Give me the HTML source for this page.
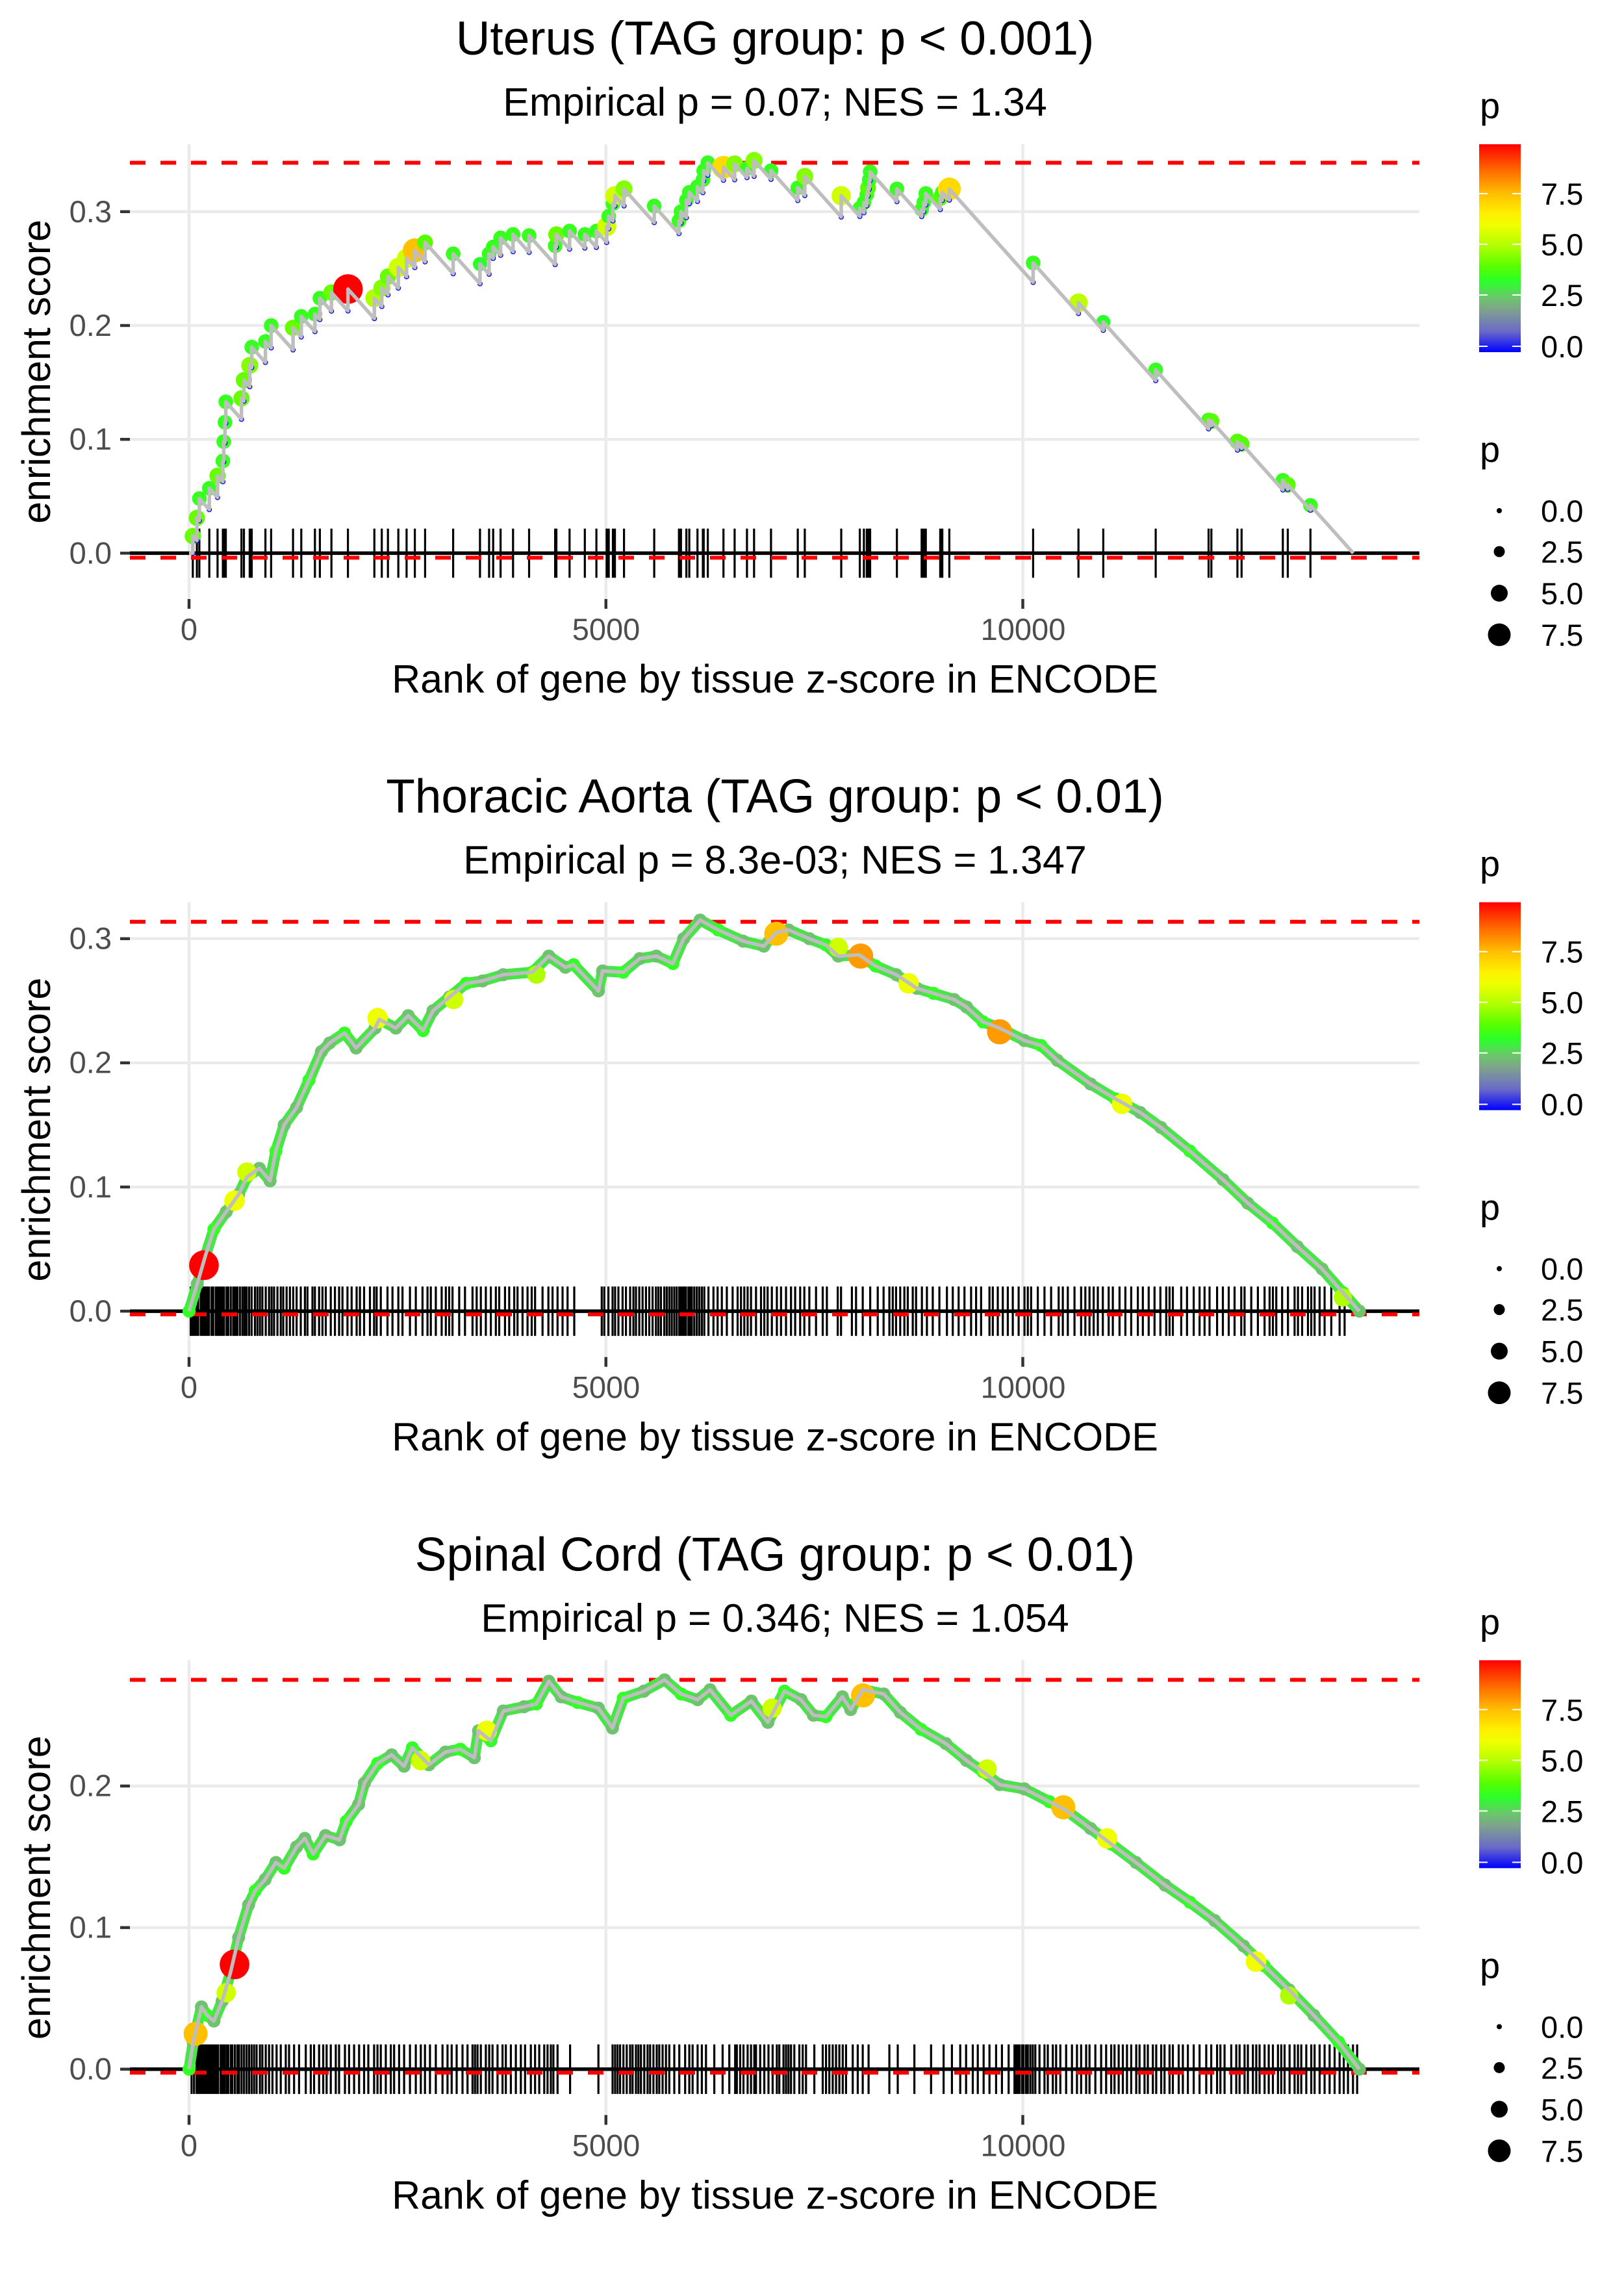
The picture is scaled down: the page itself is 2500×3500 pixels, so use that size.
<!DOCTYPE html>
<html><head><meta charset="utf-8"><title>Enrichment plots</title>
<style>
html,body{margin:0;padding:0;background:#fff;}
svg{display:block;font-family:"Liberation Sans",Arial,sans-serif;}
.tt{font-size:73px;fill:#000;text-anchor:middle;}
.st{font-size:61px;fill:#000;text-anchor:middle;}
.at{font-size:61px;fill:#000;text-anchor:middle;}
.yl{font-size:47px;fill:#4d4d4d;text-anchor:end;}
.xl{font-size:47px;fill:#4d4d4d;text-anchor:middle;}
.lt{font-size:56px;fill:#000;}
.ll{font-size:47px;fill:#000;}
</style></head>
<body>
<svg id="chart" width="2500" height="3500" viewBox="0 0 2500 3500" xmlns="http://www.w3.org/2000/svg">
<defs>
<linearGradient id="pgrad" x1="0" y1="1" x2="0" y2="0">
<stop offset="0" stop-color="#0000ff"/>
<stop offset="0.10" stop-color="#6a6ac8"/>
<stop offset="0.20" stop-color="#7fa08f"/>
<stop offset="0.26" stop-color="#6cc56c"/>
<stop offset="0.34" stop-color="#2bff2b"/>
<stop offset="0.41" stop-color="#55ff00"/>
<stop offset="0.51" stop-color="#b0ff00"/>
<stop offset="0.61" stop-color="#f0ff00"/>
<stop offset="0.67" stop-color="#ffee00"/>
<stop offset="0.76" stop-color="#ffc000"/>
<stop offset="0.88" stop-color="#ff6600"/>
<stop offset="1" stop-color="#ff0000"/>
</linearGradient>
</defs>

<!-- Panel 1 -->
<g id="panel-0">
<text class="tt" x="1193" y="84">Uterus (TAG group: p &lt; 0.001)</text>
<text class="st" x="1193" y="178">Empirical p = 0.07; NES = 1.34</text>
<text class="at" transform="translate(77,572) rotate(-90)">enrichment score</text>
<text class="at" x="1193" y="1066">Rank of gene by tissue z-score in ENCODE</text>
<g class="plot"></g>
<text class="yl" x="172" y="867.4">0.0</text>
<text class="yl" x="172" y="692.2">0.1</text>
<text class="yl" x="172" y="517">0.2</text>
<text class="yl" x="172" y="341.8">0.3</text>
<text class="xl" x="291" y="985">0</text>
<text class="xl" x="933" y="985">5000</text>
<text class="xl" x="1575" y="985">10000</text>
<g>
<text class="lt" x="2278" y="182">p</text>
<rect x="2277" y="222" width="64" height="320" fill="url(#pgrad)"/>
<g stroke="#fff" stroke-width="2"><line x1="2277" x2="2290" y1="298" y2="298"/><line x1="2328" x2="2341" y1="298" y2="298"/><line x1="2277" x2="2290" y1="376" y2="376"/><line x1="2328" x2="2341" y1="376" y2="376"/><line x1="2277" x2="2290" y1="454" y2="454"/><line x1="2328" x2="2341" y1="454" y2="454"/><line x1="2277" x2="2290" y1="533" y2="533"/><line x1="2328" x2="2341" y1="533" y2="533"/></g>
<text class="ll" x="2372" y="315">7.5</text><text class="ll" x="2372" y="393">5.0</text><text class="ll" x="2372" y="471">2.5</text><text class="ll" x="2372" y="550">0.0</text>
</g>
<g>
<text class="lt" x="2278" y="711">p</text>
<circle cx="2308" cy="786" r="4"/><circle cx="2308" cy="849" r="8.5"/><circle cx="2308" cy="913" r="13"/><circle cx="2308" cy="977" r="17.5"/>
<text class="ll" x="2372" y="803">0.0</text><text class="ll" x="2372" y="866">2.5</text><text class="ll" x="2372" y="930">5.0</text><text class="ll" x="2372" y="994">7.5</text>
</g>
</g>

<!-- Panel 2 -->
<g id="panel-1" transform="translate(0,1166.67)">
<text class="tt" x="1193" y="84">Thoracic Aorta (TAG group: p &lt; 0.01)</text>
<text class="st" x="1193" y="178">Empirical p = 8.3e-03; NES = 1.347</text>
<text class="at" transform="translate(77,572) rotate(-90)">enrichment score</text>
<text class="at" x="1193" y="1066">Rank of gene by tissue z-score in ENCODE</text>
<g class="plot"></g>
<text class="yl" x="172" y="867.2">0.0</text>
<text class="yl" x="172" y="676.1">0.1</text>
<text class="yl" x="172" y="485">0.2</text>
<text class="yl" x="172" y="293.9">0.3</text>
<text class="xl" x="291" y="985">0</text>
<text class="xl" x="933" y="985">5000</text>
<text class="xl" x="1575" y="985">10000</text>
<g>
<text class="lt" x="2278" y="182">p</text>
<rect x="2277" y="222" width="64" height="320" fill="url(#pgrad)"/>
<g stroke="#fff" stroke-width="2"><line x1="2277" x2="2290" y1="298" y2="298"/><line x1="2328" x2="2341" y1="298" y2="298"/><line x1="2277" x2="2290" y1="376" y2="376"/><line x1="2328" x2="2341" y1="376" y2="376"/><line x1="2277" x2="2290" y1="454" y2="454"/><line x1="2328" x2="2341" y1="454" y2="454"/><line x1="2277" x2="2290" y1="533" y2="533"/><line x1="2328" x2="2341" y1="533" y2="533"/></g>
<text class="ll" x="2372" y="315">7.5</text><text class="ll" x="2372" y="393">5.0</text><text class="ll" x="2372" y="471">2.5</text><text class="ll" x="2372" y="550">0.0</text>
</g>
<g>
<text class="lt" x="2278" y="711">p</text>
<circle cx="2308" cy="786" r="4"/><circle cx="2308" cy="849" r="8.5"/><circle cx="2308" cy="913" r="13"/><circle cx="2308" cy="977" r="17.5"/>
<text class="ll" x="2372" y="803">0.0</text><text class="ll" x="2372" y="866">2.5</text><text class="ll" x="2372" y="930">5.0</text><text class="ll" x="2372" y="994">7.5</text>
</g>
</g>

<!-- Panel 3 -->
<g id="panel-2" transform="translate(0,2333.33)">
<text class="tt" x="1193" y="84">Spinal Cord (TAG group: p &lt; 0.01)</text>
<text class="st" x="1193" y="178">Empirical p = 0.346; NES = 1.054</text>
<text class="at" transform="translate(77,572) rotate(-90)">enrichment score</text>
<text class="at" x="1193" y="1066">Rank of gene by tissue z-score in ENCODE</text>
<g class="plot"></g>
<text class="yl" x="172" y="867.2">0.0</text>
<text class="yl" x="172" y="649.3">0.1</text>
<text class="yl" x="172" y="431.4">0.2</text>
<text class="xl" x="291" y="985">0</text>
<text class="xl" x="933" y="985">5000</text>
<text class="xl" x="1575" y="985">10000</text>
<g>
<text class="lt" x="2278" y="182">p</text>
<rect x="2277" y="222" width="64" height="320" fill="url(#pgrad)"/>
<g stroke="#fff" stroke-width="2"><line x1="2277" x2="2290" y1="298" y2="298"/><line x1="2328" x2="2341" y1="298" y2="298"/><line x1="2277" x2="2290" y1="376" y2="376"/><line x1="2328" x2="2341" y1="376" y2="376"/><line x1="2277" x2="2290" y1="454" y2="454"/><line x1="2328" x2="2341" y1="454" y2="454"/><line x1="2277" x2="2290" y1="533" y2="533"/><line x1="2328" x2="2341" y1="533" y2="533"/></g>
<text class="ll" x="2372" y="315">7.5</text><text class="ll" x="2372" y="393">5.0</text><text class="ll" x="2372" y="471">2.5</text><text class="ll" x="2372" y="550">0.0</text>
</g>
<g>
<text class="lt" x="2278" y="711">p</text>
<circle cx="2308" cy="786" r="4"/><circle cx="2308" cy="849" r="8.5"/><circle cx="2308" cy="913" r="13"/><circle cx="2308" cy="977" r="17.5"/>
<text class="ll" x="2372" y="803">0.0</text><text class="ll" x="2372" y="866">2.5</text><text class="ll" x="2372" y="930">5.0</text><text class="ll" x="2372" y="994">7.5</text>
</g>
</g>
</svg>

<script>
// ---------- Panel 1 (Uterus): hit ranks, running ES at hit, p per hit ----------
const hitRank1 = [45,94,124,243,342,406,416,431,441,629,658,728,752,916,985,1247,1346,1510,1569,1708,1906,2223,2312,2386,2510,2609,2708,2831,3168,3490,3599,3648,3737,3886,4079,4391,4406,4564,4747,4886,5009,5034,5084,5108,5217,5579,5876,5900,5965,6000,6098,6163,6173,6222,6410,6544,6692,6777,6980,7301,7385,7822,8045,8094,8129,8144,8159,8169,8490,8787,8812,8837,9010,9035,9119,10124,10668,10965,11594,12228,12262,12574,12624,13119,13178,13450];
const hitES1 = [0.015,0.031,0.048,0.057,0.068,0.081,0.098,0.115,0.133,0.136,0.152,0.165,0.181,0.186,0.200,0.198,0.208,0.210,0.224,0.229,0.232,0.224,0.233,0.243,0.251,0.259,0.266,0.273,0.263,0.254,0.263,0.269,0.277,0.280,0.279,0.270,0.280,0.283,0.280,0.283,0.287,0.296,0.307,0.314,0.320,0.305,0.292,0.300,0.310,0.317,0.322,0.328,0.336,0.343,0.339,0.342,0.338,0.345,0.336,0.321,0.331,0.314,0.303,0.308,0.315,0.321,0.328,0.335,0.320,0.302,0.308,0.316,0.312,0.317,0.320,0.255,0.220,0.203,0.161,0.117,0.116,0.098,0.096,0.064,0.060,0.042];
const hitP1 = [4.2,4.2,3.5,3.5,4.2,3.5,3.5,3.5,3.5,4.2,4.2,4.5,3.5,3.5,3.5,4.2,3.5,3.5,3.5,4.2,9.9,5,4.5,4.2,5.5,5.5,7.5,4,3.5,3.3,3.5,3.5,3.5,3.5,3.5,3.5,4.2,3.5,3.5,3.5,5.5,3.5,3.5,5.5,4.5,3.5,3.5,3.5,3.5,3.5,3.5,3.5,3.5,3.5,7,4.5,3.5,4.5,3.5,3.5,4.5,5.5,3.5,3.5,3.5,4,3.5,3.5,3.5,3.5,3.5,3.5,4,3.5,7,3.5,5.2,3.3,3.5,3.5,4,4,4,3.5,4,3.5];
const totalGenes1 = 13964;

// ---------- Panel 2 (Thoracic Aorta) ----------
const curveRank2 = [0,99,198,298,446,595,694,843,972,1042,1141,1290,1438,1587,1686,1865,2004,2232,2282,2480,2629,2807,2926,3124,3323,3521,3769,4116,4315,4514,4613,4910,4960,5208,5406,5605,5803,5932,6130,6348,6646,6894,7043,7192,7440,7638,7787,8035,8234,8482,8730,8928,9176,9325,9523,9722,10019,10218,10416,10813,11110,11408,11656,12003,12400,12698,12995,13293,13590,13838,14037];
const curveES2 = [0,0.022,0.045,0.066,0.080,0.094,0.108,0.115,0.105,0.129,0.150,0.164,0.186,0.209,0.216,0.224,0.212,0.228,0.235,0.228,0.238,0.226,0.242,0.253,0.264,0.266,0.271,0.273,0.286,0.277,0.279,0.258,0.274,0.273,0.284,0.286,0.280,0.300,0.315,0.307,0.298,0.294,0.305,0.307,0.300,0.295,0.286,0.287,0.278,0.271,0.260,0.256,0.251,0.245,0.233,0.228,0.218,0.214,0.202,0.183,0.171,0.160,0.148,0.129,0.106,0.087,0.071,0.052,0.034,0.015,0];
const hlRank2 = [179,546,694,2262,3174,4166,7043,7787,8055,8630,9722,11190,13838];
const hlES2 = [0.037,0.089,0.112,0.236,0.251,0.271,0.304,0.293,0.286,0.264,0.225,0.167,0.011];
const hlP2 = [9.9,6,5.5,6,5.5,5,7.5,5.5,8,6,8,6,5];
const ticks2 = [20,45,70,95,110,140,165,190,215,240,270,290,320,345,370,395,420,450,470,500,530,555,580,610,640,665,690,720,750,790,820,850,880,920,960,990,1020,1060,1100,1130,1170,1210,1250,1290,1340,1390,1420,1480,1510,1560,1600,1640,1700,1750,1800,1840,1900,1950,2010,2050,2100,2170,2220,2250,2300,2380,2440,2510,2560,2650,2720,2800,2860,2900,2960,3030,3080,3120,3160,3240,3310,3400,3450,3500,3560,3620,3680,3720,3790,3840,3900,3940,4000,4060,4110,4150,4240,4310,4360,4420,4480,4540,4620,4950,4980,5030,5080,5110,5150,5200,5240,5290,5330,5360,5400,5440,5480,5520,5560,5600,5630,5660,5700,5730,5760,5790,5820,5850,5880,5900,5920,5940,5960,5990,6010,6030,6060,6090,6120,6150,6180,6230,6290,6340,6390,6450,6520,6580,6620,6660,6700,6740,6800,6860,6900,6940,6990,7050,7100,7160,7220,7270,7330,7380,7440,7520,7600,7650,7780,7820,7950,8000,8080,8170,8260,8330,8400,8440,8480,8530,8580,8620,8680,8720,8790,8850,8920,9000,9090,9160,9230,9300,9380,9440,9500,9600,9640,9700,9760,9820,9880,9950,10020,10060,10100,10180,10260,10340,10430,10480,10540,10620,10700,10750,10800,10850,10900,10960,11030,11080,11160,11230,11300,11380,11440,11510,11580,11650,11720,11760,11800,11900,11970,12050,12120,12180,12240,12330,12400,12470,12540,12620,12660,12740,12820,12900,12960,13000,13040,13110,13180,13260,13300,13350,13420,13460,13500,13560,13620,13700,13800,13860];

// ---------- Panel 3 (Spinal Cord) ----------
const curveRank3 = [0,50,149,218,298,397,496,595,714,794,913,1042,1141,1290,1389,1488,1637,1805,1885,2034,2103,2262,2430,2579,2678,2877,3075,3253,3422,3472,3620,3769,4017,4166,4315,4463,4662,4910,5079,5208,5456,5704,5902,6100,6249,6497,6745,6943,7142,7340,7489,7638,7836,7936,8084,8333,8531,8779,9077,9325,9523,9722,10019,10317,10515,10813,11061,11358,11706,12003,12301,12648,12896,13194,13491,13789,14037];
const curveES3 = [0,0.019,0.044,0.038,0.034,0.048,0.068,0.093,0.116,0.126,0.134,0.146,0.142,0.157,0.163,0.152,0.165,0.162,0.175,0.187,0.202,0.216,0.222,0.214,0.227,0.215,0.224,0.226,0.220,0.239,0.232,0.253,0.256,0.258,0.274,0.263,0.259,0.255,0.241,0.262,0.267,0.275,0.265,0.261,0.268,0.250,0.260,0.245,0.267,0.261,0.250,0.249,0.263,0.254,0.268,0.265,0.252,0.240,0.230,0.218,0.210,0.201,0.198,0.189,0.183,0.170,0.159,0.146,0.130,0.118,0.105,0.087,0.073,0.056,0.038,0.019,0];
const hlRank3 = [79,446,546,2777,3571,6993,8084,9573,10486,11011,12797,13194];
const hlES3 = [0.025,0.054,0.074,0.218,0.239,0.255,0.264,0.212,0.185,0.163,0.076,0.052];
const hlP3 = [7.5,5.5,9.9,5.5,6,5.5,7.5,5.5,7.5,6,6,5];
const ticks3 = [30,60,90,110,130,150,175,200,220,240,260,285,310,330,350,380,400,425,450,470,500,520,550,580,600,630,660,690,720,750,780,810,850,880,920,960,1000,1050,1100,1160,1200,1260,1320,1400,1460,1500,1560,1610,1650,1700,1760,1800,1870,1920,1980,2040,2100,2150,2220,2260,2300,2360,2420,2460,2520,2580,2650,2720,2780,2830,2890,2960,3040,3100,3150,3210,3280,3340,3400,3430,3460,3500,3560,3600,3640,3700,3760,3800,3860,3920,3980,4030,4100,4150,4200,4260,4300,4340,4370,4420,4570,4910,5080,5110,5140,5170,5210,5250,5290,5320,5360,5390,5420,5460,5500,5530,5570,5610,5640,5680,5720,5760,5820,5880,5950,6000,6040,6100,6150,6200,6300,6400,6480,6550,6570,6610,6650,6700,6740,6780,6800,6850,6900,6950,7000,7050,7080,7130,7160,7190,7220,7260,7320,7360,7400,7500,7600,7640,7680,7720,7760,7800,7840,7880,7960,8020,8080,8150,8400,8500,8700,8900,9050,9150,9250,9320,9400,9460,9530,9600,9680,9750,9830,9900,9920,9940,9960,9990,10010,10040,10060,10090,10120,10150,10200,10260,10300,10360,10400,10450,10520,10590,10650,10700,10760,10800,10870,10940,11000,11060,11100,11150,11200,11250,11300,11360,11400,11460,11500,11560,11600,11660,11700,11760,11800,11870,11920,11980,12050,12120,12200,12260,12330,12370,12420,12500,12560,12600,12660,12700,12760,12800,12840,12900,12950,13000,13060,13100,13140,13200,13260,13300,13340,13400,13460,13500,13560,13620,13680,13740,13800,13850,13900,13960,14010];

// dashed reference lines (max / min running ES)
const maxES = [0.343, 0.3136, 0.275];
const minES = [-0.004, -0.0026, -0.0025];
const xTicks = [0, 5000, 10000];
const yTicks = [[0,0.1,0.2,0.3],[0,0.1,0.2,0.3],[0,0.1,0.2]];
const barHalf = [0.0216, 0.0199, 0.0175];

// ---------- layout ----------
const NS = 'http://www.w3.org/2000/svg';
const PL = 200, PR = 2185, PT = 222, PB = 922, Y0 = 851.4;
const yK = [1752, 1911, 2179];
function xS(r){ return 291 + r * 0.12835; }
function yS(i, v){ return Y0 - v * yK[i]; }
const cstops = [[0,[0,0,255]],[1,[106,106,200]],[2,[127,160,143]],[2.6,[108,197,108]],[3.3,[43,255,43]],[4,[85,255,0]],[5,[176,255,0]],[6,[240,255,0]],[6.6,[255,238,0]],[7.5,[255,192,0]],[8.7,[255,102,0]],[9.9,[255,0,0]]];
function pColor(p){
  if (p <= cstops[0][0]) return 'rgb(0,0,255)';
  for (let k = 1; k < cstops.length; k++){
    if (p <= cstops[k][0]){
      const a = cstops[k-1], b = cstops[k], t = (p - a[0]) / (b[0] - a[0]);
      const c = a[1].map((v, j) => Math.round(v + (b[1][j] - v) * t));
      return 'rgb(' + c.join(',') + ')';
    }
  }
  return 'rgb(255,0,0)';
}
function pRadius(p){ return 5 + 1.8 * p; }
function mk(tag, attrs, parent){
  const el = document.createElementNS(NS, tag);
  for (const k in attrs) el.setAttribute(k, attrs[k]);
  parent.appendChild(el);
  return el;
}

function drawFrame(i, g){
  for (const t of yTicks[i]){
    const gl = mk('line', {x1: PL, x2: PR, y1: yS(i,t), y2: yS(i,t), stroke: '#ebebeb', 'stroke-width': 4.5}, g);
    
    
    const tk = mk('line', {x1: 185, x2: 200, y1: yS(i,t), y2: yS(i,t), stroke: '#333', 'stroke-width': 4.5}, g);
    
    
  }
  for (const r of xTicks){
    const gl = mk('line', {x1: xS(r), x2: xS(r), y1: PT, y2: PB, stroke: '#ebebeb', 'stroke-width': 4.5}, g);
    
    
    const tk = mk('line', {x1: xS(r), x2: xS(r), y1: PB, y2: PB + 15, stroke: '#333', 'stroke-width': 4.5}, g);
    
    
  }
}
function drawTicks(i, g, ranks){
  let d = '';
  for (const r of ranks){
    d += 'M' + xS(r).toFixed(1) + ' ' + yS(i, barHalf[i]).toFixed(1) + 'V' + yS(i, -barHalf[i]).toFixed(1);
  }
  const p = mk('path', {d: d, stroke: '#000', 'stroke-width': 3.2, fill: 'none'}, g);
  
  
}
function drawRefLines(i, g){
  const z = mk('line', {x1: PL, x2: PR, y1: yS(i,0), y2: yS(i,0), stroke: '#000', 'stroke-width': 5.5}, g);
  
  
  const a = mk('line', {x1: PL, x2: PR, y1: yS(i,maxES[i]), y2: yS(i,maxES[i]), stroke: '#ff0000', 'stroke-width': 6, 'stroke-dasharray': '24 23'}, g);
  
  
  const b = mk('line', {x1: PL, x2: PR, y1: yS(i,minES[i]), y2: yS(i,minES[i]), stroke: '#ff0000', 'stroke-width': 6, 'stroke-dasharray': '24 23'}, g);
  
  
}

// Panel 1: step-like running ES
(function(){
  const g = document.querySelector('#panel-0 .plot');
  drawFrame(0, g);
  drawTicks(0, g, hitRank1);
  drawRefLines(0, g);
  const last = hitRank1.length - 1;
  const slope = hitES1[last] / (totalGenes1 - hitRank1[last]);
  const valleys = [];
  for (let k = 0; k < hitRank1.length; k++){
    let v = k === 0 ? 0 : hitES1[k-1] - slope * (hitRank1[k] - hitRank1[k-1]);
    v = Math.min(v, hitES1[k] - 0.004);
    valleys.push(v);
  }
  for (let k = 0; k < hitRank1.length; k++){
    const c = mk('circle', {cx: xS(hitRank1[k]), cy: yS(0, hitES1[k]), r: pRadius(hitP1[k]), fill: pColor(hitP1[k])}, g);
    
    
  }
  for (let k = 0; k < hitRank1.length; k++){
    const c = mk('circle', {cx: xS(hitRank1[k]), cy: yS(0, valleys[k]), r: 4, fill: '#0000ff'}, g);
    
    
  }
  let d = 'M' + xS(0) + ' ' + yS(0, 0);
  for (let k = 0; k < hitRank1.length; k++){
    d += 'L' + xS(hitRank1[k]).toFixed(1) + ' ' + yS(0, valleys[k]).toFixed(1);
    d += 'L' + xS(hitRank1[k]).toFixed(1) + ' ' + yS(0, hitES1[k]).toFixed(1);
  }
  d += 'L' + xS(totalGenes1).toFixed(1) + ' ' + yS(0, 0).toFixed(1);
  const ln = mk('path', {d: d, stroke: '#bebebe', 'stroke-width': 5.5, fill: 'none', 'stroke-linejoin': 'round'}, g);
  
  
})();

// Panels 2 and 3: dense running ES
function drawDense(i, ranks, es, hlR, hlE, hlP, ticks){
  const g = document.querySelector('#panel-' + i + ' .plot');
  drawFrame(i, g);
  drawTicks(i, g, ticks);
  drawRefLines(i, g);
  let d = '';
  for (let k = 0; k < ranks.length; k++){
    d += (k ? 'L' : 'M') + xS(ranks[k]).toFixed(1) + ' ' + yS(i, es[k]).toFixed(1);
  }
  const under = mk('path', {d: d, stroke: '#0000ff', 'stroke-width': 2, fill: 'none', transform: 'translate(0,7)'}, g);
  
  
  const band = mk('path', {d: d, stroke: pColor(3.0), 'stroke-width': 17, fill: 'none', 'stroke-linejoin': 'round'}, g);
  
  
  for (let k = 0; k < ranks.length; k++){
    const c = mk('circle', {cx: xS(ranks[k]), cy: yS(i, es[k]), r: pRadius(2.8), fill: pColor(k % 3 === 0 ? 3.4 : 2.6)}, g);
    
    
  }
  for (let k = 0; k < hlR.length; k++){
    const c = mk('circle', {cx: xS(hlR[k]), cy: yS(i, hlE[k]), r: pRadius(hlP[k]), fill: pColor(hlP[k])}, g);
    
    
  }
  const ln = mk('path', {d: d, stroke: '#bebebe', 'stroke-width': 5.5, fill: 'none', 'stroke-linejoin': 'round'}, g);
  
  
}
drawDense(1, curveRank2, curveES2, hlRank2, hlES2, hlP2, ticks2);
drawDense(2, curveRank3, curveES3, hlRank3, hlES3, hlP3, ticks3);
</script>
</body></html>
